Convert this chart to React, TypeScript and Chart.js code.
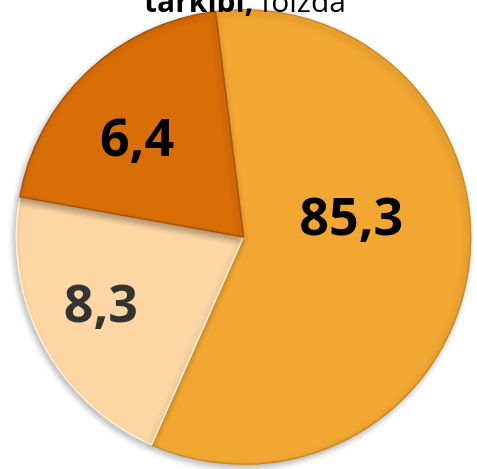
import React, { useEffect, useRef } from "react";
import { Chart, registerables } from "chart.js";

Chart.register(...registerables);

// Text shown on each slice (as printed in the reference)
const sliceLabels = ["85,3", "8,3", "6,4"];
// Angular shares of the slices as drawn in the reference picture (percent of circle)
const sliceShares = [58.6, 21.2, 20.2];
const sliceColors = ["#F2A732", "#FDD6A4", "#DA6E06"];
const sliceBorders = ["#C98A25", "#FFF3D6", "#A85404"];
const labelColors = ["#000000", "#333333", "#000000"];
const titleBold = "tarkibi,";
const titleNormal = " foizda";

const labelPlacement = [
  { frac: 0.48, dAngle: -0.3 },
  { frac: 0.7, dAngle: 0.03 },
  { frac: 0.63, dAngle: -0.08 },
];

const labelPlugin = {
  id: "sliceLabels",
  afterDatasetsDraw(chart: any) {
    const ctx = chart.ctx;
    const meta = chart.getDatasetMeta(0);
    ctx.save();
    ctx.textAlign = "center";
    ctx.textBaseline = "middle";
    ctx.font = "bold 52px 'Open Sans'";
    meta.data.forEach((arc: any, i: number) => {
      const p = arc.getProps(["x", "y", "startAngle", "endAngle", "outerRadius"], true);
      const a = (p.startAngle + p.endAngle) / 2 + labelPlacement[i].dAngle;
      const r = p.outerRadius * labelPlacement[i].frac;
      ctx.fillStyle = labelColors[i];
      ctx.fillText(sliceLabels[i], p.x + Math.cos(a) * r, p.y + Math.sin(a) * r);
    });
    ctx.restore();
  },
};

const titlePlugin = {
  id: "cutTitle",
  afterDraw(chart: any) {
    const ctx = chart.ctx;
    ctx.save();
    ctx.textBaseline = "alphabetic";
    ctx.fillStyle = "#000000";
    ctx.font = "bold 30px 'Open Sans'";
    const wb = ctx.measureText(titleBold).width;
    ctx.font = "30px 'Open Sans'";
    const wn = ctx.measureText(titleNormal).width;
    const x0 = 245 - (wb + wn) / 2;
    ctx.textAlign = "left";
    ctx.font = "bold 30px 'Open Sans'";
    ctx.fillText(titleBold, x0, 12);
    ctx.font = "30px 'Open Sans'";
    ctx.fillText(titleNormal, x0 + wb, 12);
    ctx.restore();
  },
};

const shadowPlugin = {
  id: "pieShadow",
  beforeDatasetsDraw(chart: any) {
    const ctx = chart.ctx;
    ctx.save();
    ctx.shadowColor = "rgba(0,0,0,0.28)";
    ctx.shadowBlur = 6;
    ctx.shadowOffsetX = -2;
    ctx.shadowOffsetY = 3;
  },
  afterDatasetsDraw(chart: any) {
    chart.ctx.restore();
  },
};

export default function App() {
  const ref = useRef<HTMLCanvasElement | null>(null);
  useEffect(() => {
    if (!ref.current) return;
    const chart = new Chart(ref.current, {
      type: "pie",
      data: {
        labels: sliceLabels,
        datasets: [
          {
            data: sliceShares,
            backgroundColor: sliceColors,
            borderColor: sliceBorders,
            borderWidth: 1.5,
          },
        ],
      },
      options: {
        animation: false,
        responsive: true,
        maintainAspectRatio: false,
        rotation: -7.1,
        layout: { padding: { left: 13, right: 3, top: 9, bottom: 4 } },
        plugins: {
          legend: { display: false },
          tooltip: { enabled: false },
          title: { display: false },
        },
      },
      plugins: [shadowPlugin, labelPlugin, titlePlugin],
    });
    return () => chart.destroy();
  }, []);
  return (
    <div style={{ position: "fixed", left: 0, top: 0, width: 477, height: 469, background: "#ffffff" }}>
      <canvas ref={ref} />
    </div>
  );
}
